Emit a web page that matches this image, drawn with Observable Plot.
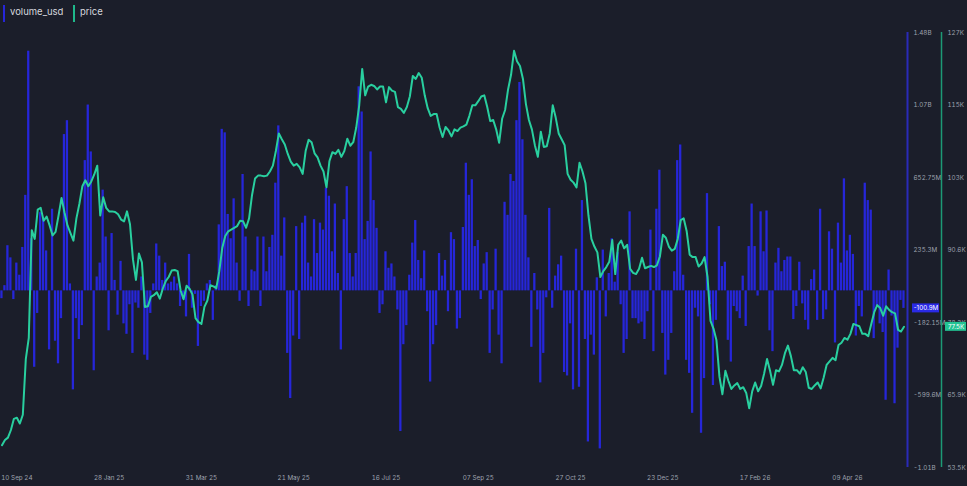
<!DOCTYPE html>
<html>
<head>
<meta charset="utf-8">
<script src="https://cdn.jsdelivr.net/npm/d3@7"></script>
<script src="https://cdn.jsdelivr.net/npm/@observablehq/plot@0.6"></script>
<style>
  html, body { margin: 0; padding: 0; background: #1b1e2a; }
  #wrap { position: relative; width: 967px; height: 486px; overflow: hidden; font-family: Inter, Roboto, sans-serif; }
  #legend { position: relative; height: 24px; }
  .lg-item { position: absolute; top: 0; height: 24px; }
  .lg-mark { position: absolute; top: 5px; width: 2px; height: 17px; }
  .lg-text { position: absolute; top: 6px; font-size: 9.5px; color: #d5d7de; white-space: nowrap; }
</style>
</head>
<body>
<div id="wrap">
  <div id="legend"></div>
  <div id="chart"></div>
</div>
<script>
// ---------- data ----------
// net volume in USD millions, one per bar
const volume0 = [-45, 30, 260, 190, -50, 160, 90, 250, 550, 1380, 300, -440, -130, 450, 420, 230, -340, 470, -290, -420, -160, 900, 980, 40, -570, -160, -280, -200, 750, 1070, 800, -460, 80, 160, 580, 310, -230, 330, 60, -140, 170, -190, -250, -80, -360, -70, -100, 80, -370, -400];
const volume1 = [-130, 40, 270, 200, 60, 160, 40, 50, 80, 40, -90, -50, -150, 210, -100, -20, -320, -90, -60, 40, 60, -170, 30, 380, 930, 910, 440, 300, 530, 160, -60, 670, 310, -90, 120, 110, 310, -90, 310, 110, 250, 320, 620, 950, 200, 420, -360, -620, -260, 370, -280];
const volume2 = [390, 430, 160, 80, 410, 215, 390, 350, 590, 545, 225, 500, 100, -340, 410, 600, 215, 80, 215, 1175, 1030, 295, 400, 800, 520, 360, -130, -80, 225, 130, 155, 80, -110, -810, -310, -200, 90, 275, 405, 175, 70, 230, -120, -525, -310, -200, 215, 85, 175, -120];
const volume3 = [335, 295, -220, -160, 365, 735, 550, 640, 255, 290, -50, 155, 220, -360, -110, 240, -255, -420, 510, 435, 670, 630, 980, 1200, 870, 435, 190, -325, 100, -110, -530, -360, -40, 475, -100, 85, 150, 200, -470, -490, -190, -570, 240, -555, 520, -280, -870, -255, -370, 75, -910];
const volume4 = [235, -150, 100, 300, 50, 220, -80, -360, -280, 455, -160, -160, -190, -180, -280, -120, 350, -350, 470, 695, -245, -485, -400, -245, 110, 750, 840, 90, -400, -475, -705, -100, -150, -820, -505, 560, -80, -545, -170, 370, 140, 165, -285, -410, -90, -120, -160, 85, -205, 255, 500];
const volume5 = [255, -30, 455, 225, 460, -230, -350, 160, 245, 110, 175, 195, 195, -165, -90, 165, -75, -170, -225, 65, 120, -170, 470, -165, -110, 340, 240, -300, 390, 160, 645, 230, 320, 210, -260, -90, -150, 620, 520, 465, -275, -90, -190, -240, -630, 120, -145, -650, -330, -55, -100.9];

// price in thousands USD, one per bar
const price0 = [57.3, 58.2, 58.6, 59.9, 61.8, 62.0, 61.0, 62.5, 72.0, 75.6, 94.0, 92.5, 97.5, 97.8, 95.6, 96.3, 94.8, 93.1, 93.7, 96.5, 99.5, 97.0, 94.8, 93.5, 92.2, 96.0, 98.5, 101.5, 102.5, 101.5, 102.3, 103.5, 105.0, 96.5, 99.6, 97.8, 97.2, 97.2, 97.1, 96.7, 95.8, 95.5, 97.2, 95.0, 89.0, 85.5, 90.0, 88.5, 80.9, 81.0];
const price1 = [82.6, 82.9, 83.4, 82.3, 84.0, 85.3, 86.0, 87.1, 87.2, 87.0, 83.7, 82.2, 84.5, 84.0, 83.0, 79.0, 78.3, 78.0, 80.9, 82.0, 84.6, 84.4, 84.1, 87.0, 91.0, 93.0, 93.8, 94.1, 94.4, 94.7, 95.6, 95.5, 94.4, 96.0, 100.0, 102.8, 103.3, 103.3, 103.2, 103.3, 104.0, 105.0, 107.5, 110.5, 109.5, 108.6, 107.0, 105.7, 105.0, 105.3, 104.7];
const price2 = [103.6, 107.5, 109.4, 109.0, 107.1, 106.4, 105.0, 104.0, 101.3, 105.8, 107.3, 107.0, 107.7, 106.5, 107.5, 109.6, 108.4, 109.0, 111.5, 115.3, 121.5, 117.0, 118.5, 118.8, 118.6, 118.0, 118.5, 118.5, 115.8, 118.4, 117.8, 117.6, 115.0, 114.7, 114.0, 115.0, 116.8, 120.3, 119.8, 120.8, 120.0, 117.0, 114.8, 113.5, 113.8, 113.8, 111.5, 109.9, 111.6, 111.0];
const price3 = [110.0, 111.2, 110.9, 111.5, 111.7, 112.0, 113.5, 115.3, 115.3, 116.0, 116.8, 117.0, 115.0, 112.6, 112.8, 111.2, 108.9, 113.0, 114.5, 118.0, 120.5, 124.6, 122.8, 122.0, 119.8, 115.5, 112.8, 111.2, 108.5, 106.5, 110.8, 108.2, 108.3, 110.5, 115.3, 113.2, 110.5, 109.5, 108.5, 103.6, 102.6, 102.1, 101.3, 105.5, 104.0, 102.0, 96.5, 92.5, 91.2, 90.2, 86.0];
const price4 = [87.0, 87.7, 88.6, 92.3, 86.5, 91.5, 92.2, 90.9, 91.5, 87.4, 86.7, 86.5, 87.4, 89.3, 87.5, 87.7, 87.9, 87.7, 88.0, 89.5, 93.2, 92.7, 91.2, 90.5, 90.8, 92.5, 95.7, 96.0, 93.8, 89.8, 89.4, 89.4, 87.8, 88.3, 89.4, 86.0, 78.5, 77.2, 75.2, 69.0, 66.0, 70.0, 68.3, 66.9, 67.5, 67.9, 66.9, 67.2, 66.2, 63.6, 66.5];
const price5 = [68.0, 66.5, 67.4, 69.5, 72.0, 70.0, 67.6, 70.1, 69.9, 71.0, 73.0, 74.3, 72.5, 70.1, 70.1, 69.5, 70.6, 69.8, 67.1, 66.9, 67.5, 68.0, 67.0, 68.8, 71.0, 71.6, 72.2, 71.8, 74.4, 74.8, 75.6, 75.3, 76.3, 78.0, 77.8, 77.6, 76.3, 76.3, 75.9, 78.0, 80.0, 81.2, 80.7, 79.4, 81.0, 80.4, 80.0, 79.8, 77.0, 76.7, 77.5];

// x-axis date labels and the bar they sit under
const dateLabels = ["10 Sep 24", "28 Jan 25", "31 Mar 25", "21 May 25", "16 Jul 25", "07 Sep 25", "27 Oct 25", "23 Dec 25", "17 Feb 26", "09 Apr 26"];
const dateBars = [5, 36, 67, 98, 129, 160, 191, 222, 253, 284];

// right-hand axes
const volumeTicks = [-1017.05, -599.6, -182.15, 235.3, 652.75, 1070.2, 1487.65];
const volumeTickLabels = ["-1.01B", "-599.6M", "-182.15M", "235.3M", "652.75M", "1.07B", "1.48B"];
const priceDomain = [53.5, 127.72];
const priceTickLabels = ["53.5K", "65.9K", "78.3K", "90.6K", "103K", "115K", "127K"];

const lastVolumeLabel = "-100.9M";
const lastPriceLabel = "77.5K";

// ---------- build ----------
const volume = [...volume0, ...volume1, ...volume2, ...volume3, ...volume4, ...volume5];
const price = [...price0, ...price1, ...price2, ...price3, ...price4, ...price5];
const N = volume.length;
const rows = volume.map((v, i) => ({i, v, p: price[i]}));

const BLUE = "#2626d9";
const GREEN = "#29cf9f";
const TEXT = "#9ea2ae";

const vDomain = [volumeTicks[0], volumeTicks[volumeTicks.length - 1]];
const toVol = d3.scaleLinear().domain(priceDomain).range(vDomain);

const dateMap = new Map(dateBars.map((b, k) => [b + 0.5, dateLabels[k]]));
const volMap = new Map(volumeTicks.map((t, k) => [t, volumeTickLabels[k]]));
const priceMap = new Map(volumeTicks.map((t, k) => [t, priceTickLabels[k]]));

const lastRow = rows[N - 1];

// legend
const legend = document.getElementById("legend");
[["volume_usd", BLUE, 3], ["price", "#1fb88b", 73]].forEach(([name, color, left]) => {
  const item = document.createElement("div");
  item.className = "lg-item";
  item.style.left = left + "px";
  item.innerHTML = `<div class="lg-mark" style="left:0;background:${color}"></div><div class="lg-text" style="left:7px">${name}</div>`;
  legend.appendChild(item);
});

const chart = Plot.plot({
  width: 967,
  height: 462,
  marginTop: 8,
  marginBottom: 19,
  marginLeft: 0,
  marginRight: 62,
  style: {background: "transparent", color: TEXT, fontSize: "6.3px", fontFamily: "Inter, Roboto, sans-serif", overflow: "visible"},
  x: {type: "linear", domain: [0, N]},
  y: {type: "linear", domain: vDomain},
  marks: [
    Plot.rectY(rows, {x1: d => d.i, x2: d => d.i + 1, y: "v", fill: BLUE, insetLeft: 0.3, insetRight: 0.4}),
    Plot.line(rows, {x: d => d.i + 0.5, y: d => toVol(d.p), stroke: GREEN, strokeWidth: 2, strokeLinejoin: "round"}),
    Plot.axisX({ticks: dateBars.map(b => b + 0.5), tickFormat: d => dateMap.get(d), tickSize: 0, tickPadding: 8, fill: TEXT}),
    Plot.axisY({anchor: "right", ticks: volumeTicks, tickFormat: d => volMap.get(d), tickSize: 0, tickPadding: 8, fill: TEXT, label: null}),
    Plot.axisY({anchor: "right", ticks: volumeTicks, tickFormat: d => priceMap.get(d), tickSize: 0, tickPadding: 42, fill: TEXT, label: null}),
    Plot.ruleX([N], {y1: vDomain[0], y2: vDomain[1], dx: 2, stroke: "#2a2ab8", strokeWidth: 2}),
    Plot.ruleX([N], {y1: vDomain[0], y2: vDomain[1], dx: 36, stroke: "#1c9a76", strokeWidth: 1.5}),
    Plot.rect([lastRow], {x1: N, x2: N, y1: "v", y2: "v", insetLeft: 7, insetRight: -34, insetTop: -4.5, insetBottom: -4.5, fill: "#2a2ae6"}),
    Plot.text([lastRow], {x: N, y: "v", text: () => lastVolumeLabel, dx: 20.5, fill: "#ffffff", fontSize: 6.3}),
    Plot.rect([lastRow], {x1: N, x2: N, y1: d => toVol(d.p), y2: d => toVol(d.p), insetLeft: 40, insetRight: -61, insetTop: -4.5, insetBottom: -4.5, fill: "#22c393"}),
    Plot.text([lastRow], {x: N, y: d => toVol(d.p), text: () => lastPriceLabel, dx: 50.5, fill: "#ffffff", fontSize: 6.3})
  ]
});
document.getElementById("chart").appendChild(chart);
</script>
</body>
</html>
